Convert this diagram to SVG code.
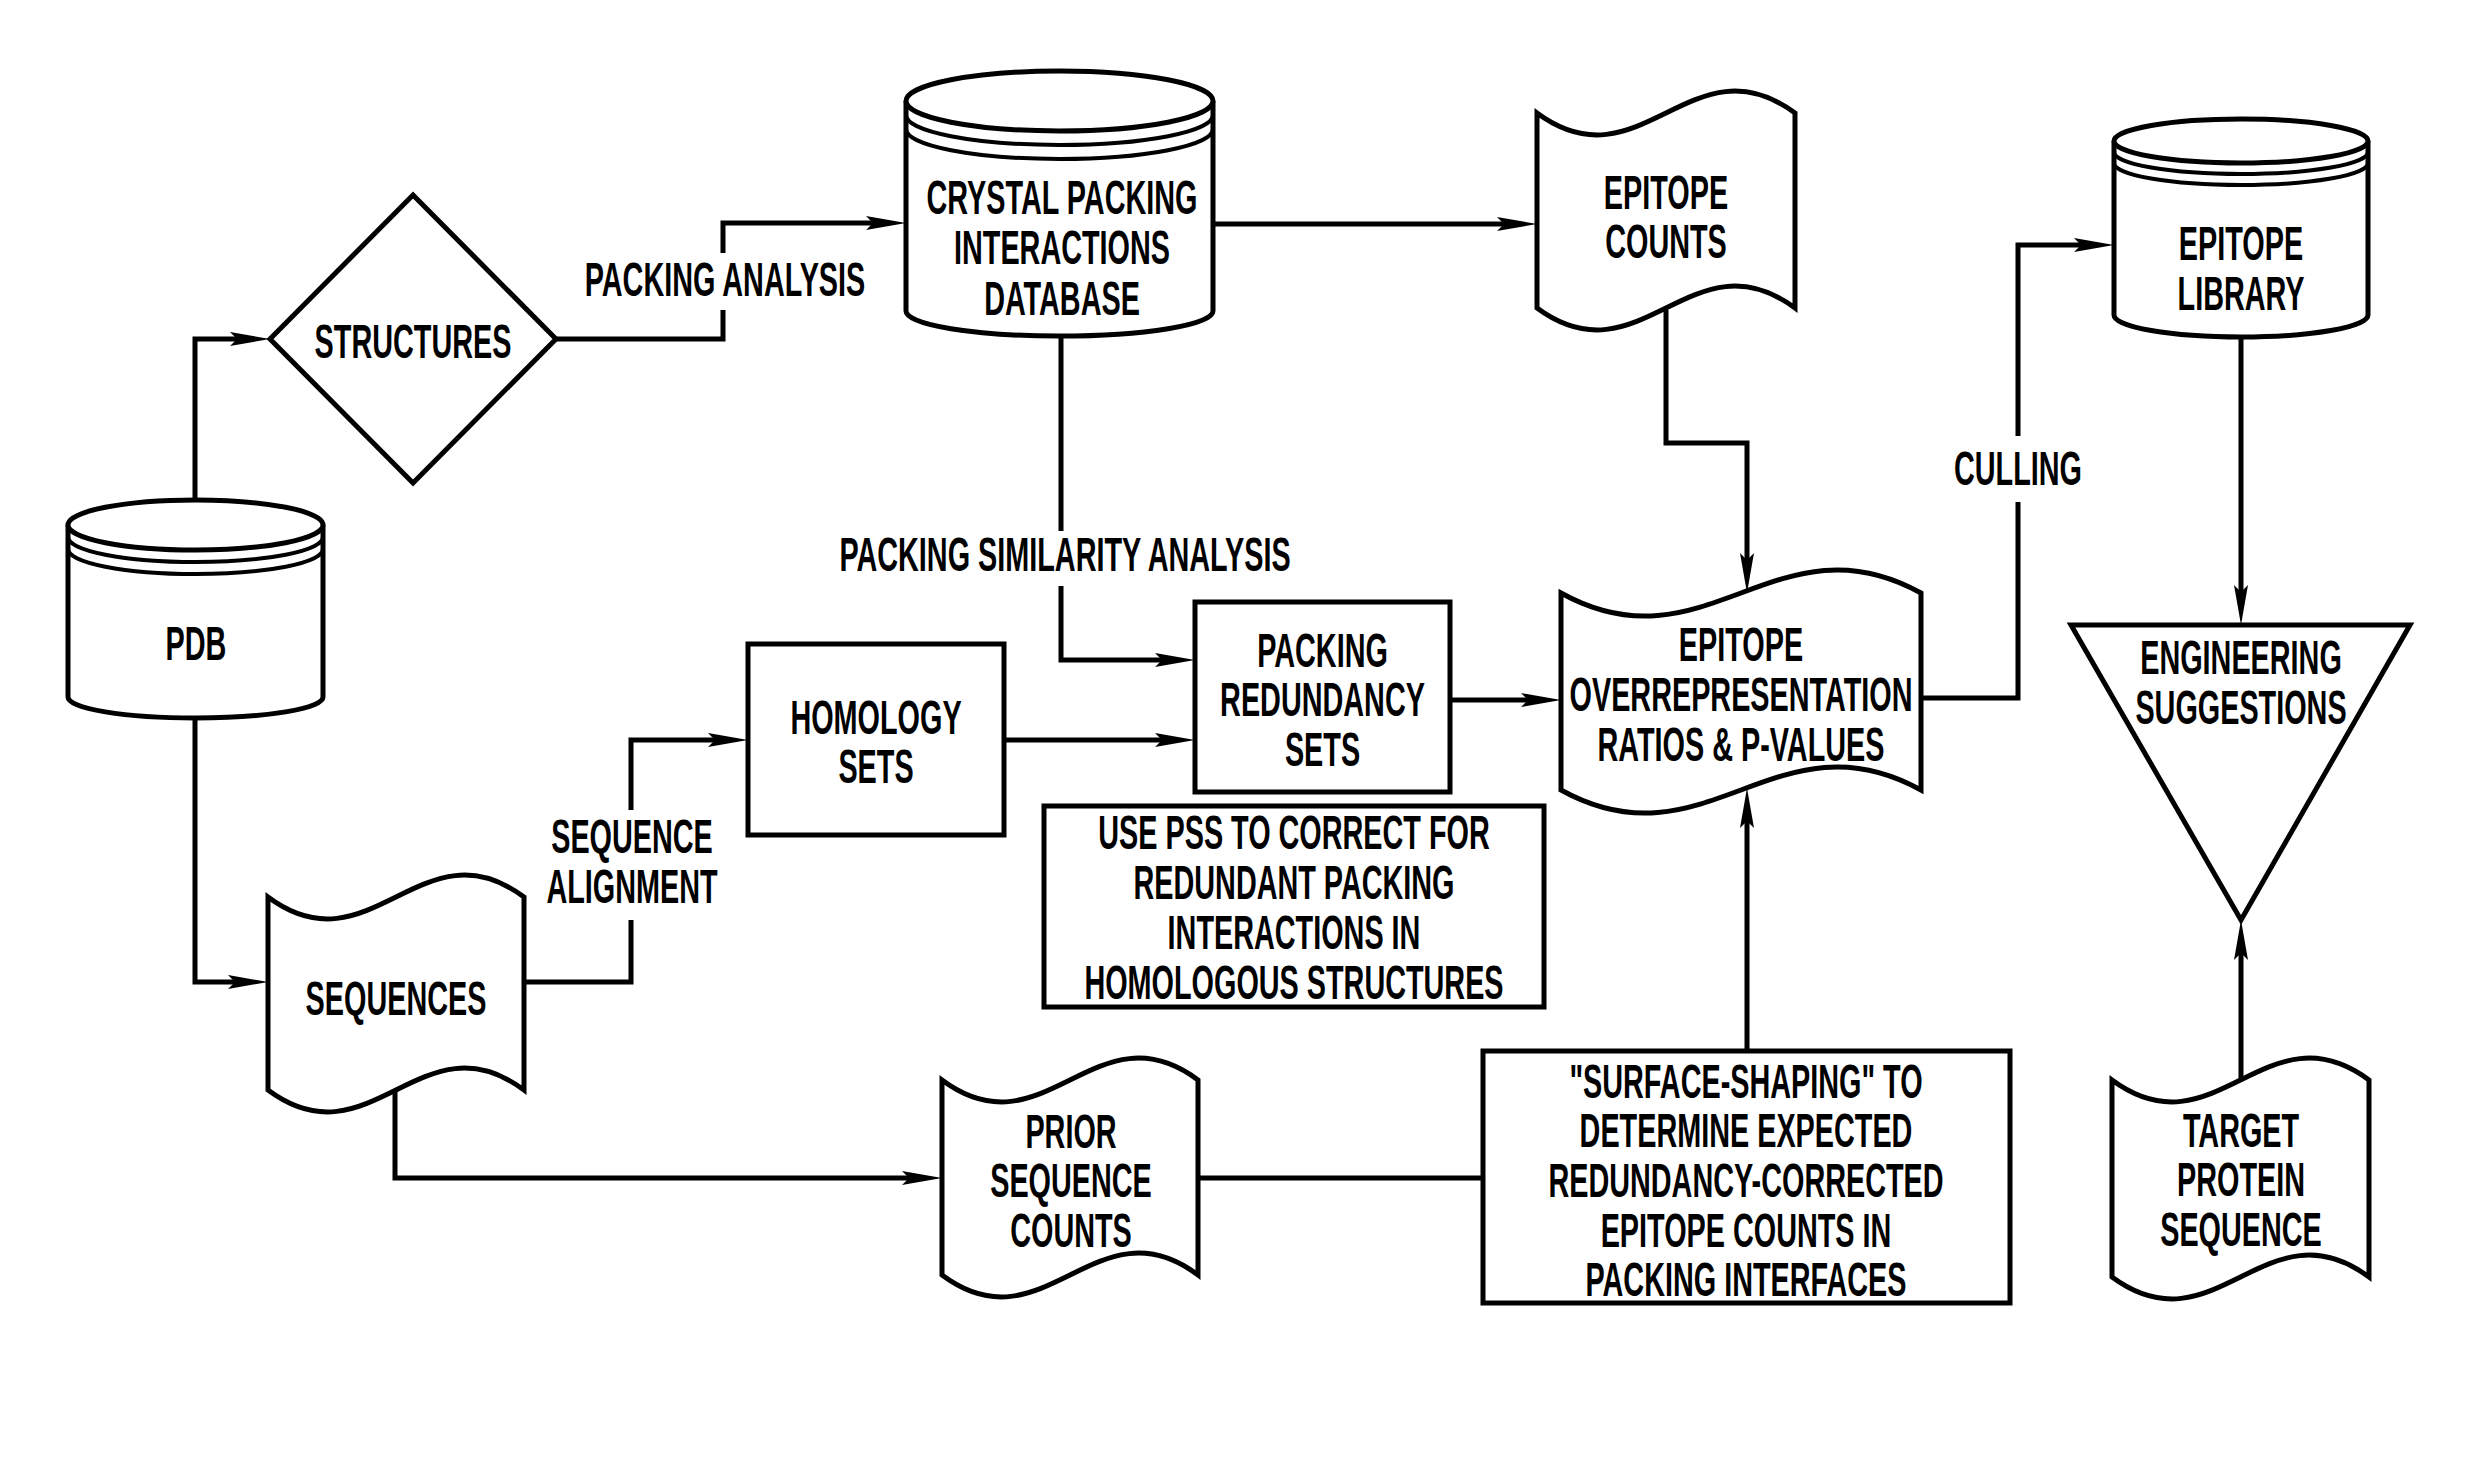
<svg xmlns="http://www.w3.org/2000/svg" width="2470" height="1472" viewBox="0 0 2470 1472">
<defs>
<style>
.s{fill:#fff;stroke:#000;stroke-width:5;stroke-linejoin:miter}
.a{fill:none;stroke:#000;stroke-width:4}
.c{fill:none;stroke:#000;stroke-width:5}
.ar{fill:none;stroke:#000;stroke-width:5;marker-end:url(#ah)}
.t{font-family:"Liberation Sans",Arial,sans-serif;font-weight:bold;font-size:48px;fill:#000;text-anchor:middle}
</style>
<marker id="ah" markerUnits="userSpaceOnUse" markerWidth="44" markerHeight="18" viewBox="-42 -9 44 18" refX="-20" refY="0" orient="auto" overflow="visible">
<path d="M0,0 L-40,-7 L-33,0 L-40,7 Z" fill="#000"/>
</marker>
</defs>
<rect width="2470" height="1472" fill="#fff"/>

<g id="connectors">
<path class="ar" d="M195,527 V339 H250"/>
<path class="c" d="M556,339 H723 V310"/>
<path class="ar" d="M723,253 V223 H886"/>
<path class="ar" d="M1213,224 H1517"/>
<path class="c" d="M1061,337 V531"/>
<path class="ar" d="M1061,586 V660 H1175"/>
<path class="ar" d="M1666,310 V443 H1747 V573"/>
<path class="ar" d="M1004,740 H1175"/>
<path class="ar" d="M1450,700 H1541"/>
<path class="c" d="M1921,698 H2018 V502"/>
<path class="ar" d="M2018,436 V245 H2094"/>
<path class="ar" d="M2241,337 V605"/>
<path class="ar" d="M2241,1080 V940"/>
<path class="ar" d="M195,720 V982 H248"/>
<path class="c" d="M524,982 H631 V920"/>
<path class="ar" d="M631,810 V740 H728"/>
<path class="ar" d="M395,1090 V1178 H922"/>
<path class="c" d="M1198,1178 H1483"/>
<path class="ar" d="M1747,1051 V808"/>
</g>

<g id="labels">
<text class="t" transform="translate(725,295.5) scale(0.6,1)">PACKING ANALYSIS</text>
<text class="t" transform="translate(1065,571) scale(0.6,1)">PACKING SIMILARITY ANALYSIS</text>
<text class="t" transform="translate(632,853) scale(0.6,1)"><tspan x="0" y="0">SEQUENCE</tspan><tspan x="0" y="50">ALIGNMENT</tspan></text>
<text class="t" transform="translate(2018,485) scale(0.6,1)">CULLING</text>
</g>

<g id="pdb">
<path class="s" d="M68,525 V697 A127.5,21 0 0 0 323,697 V525"/>
<ellipse class="s" cx="195.5" cy="525" rx="127.5" ry="25"/>
<path class="a" d="M68,537 A127.5,25 0 0 0 323,537 M68,549 A127.5,25 0 0 0 323,549"/>
<text class="t" transform="translate(196,660) scale(0.6,1)">PDB</text>
</g>

<g id="structures">
<polygon class="s" points="413,195 556,339 413,483 270,339"/>
<text class="t" transform="translate(413,358) scale(0.6,1)">STRUCTURES</text>
</g>

<g id="crystal-db">
<path class="s" d="M906,101 V311 A153.5,25 0 0 0 1213,311 V101"/>
<ellipse class="s" cx="1059.5" cy="101" rx="153.5" ry="30"/>
<path class="a" d="M906,115 A153.5,30 0 0 0 1213,115 M906,129 A153.5,30 0 0 0 1213,129"/>
<text class="t" transform="translate(1062,214) scale(0.6,1)"><tspan x="0" y="0">CRYSTAL PACKING</tspan><tspan x="0" y="50.5">INTERACTIONS</tspan><tspan x="0" y="101">DATABASE</tspan></text>
</g>

<g id="epitope-counts">
<path class="s" d="M1537,113 C1640,189 1692,37 1795,113 L1795,308 C1692,232 1640,384 1537,308 Z"/>
<text class="t" transform="translate(1666,208.5) scale(0.6,1)"><tspan x="0" y="0">EPITOPE</tspan><tspan x="0" y="50">COUNTS</tspan></text>
</g>

<g id="epitope-library">
<path class="s" d="M2114,141 V315 A127,22 0 0 0 2368,315 V141"/>
<ellipse class="s" cx="2241" cy="141" rx="127" ry="22"/>
<path class="a" d="M2114,152 A127,22 0 0 0 2368,152 M2114,163 A127,22 0 0 0 2368,163"/>
<text class="t" transform="translate(2241,260) scale(0.6,1)"><tspan x="0" y="0">EPITOPE</tspan><tspan x="0" y="50">LIBRARY</tspan></text>
</g>

<g id="homology-sets">
<rect class="s" x="748" y="644" width="256" height="191"/>
<text class="t" transform="translate(876,733.5) scale(0.6,1)"><tspan x="0" y="0">HOMOLOGY</tspan><tspan x="0" y="50">SETS</tspan></text>
</g>

<g id="packing-redundancy">
<rect class="s" x="1195" y="602" width="255" height="190"/>
<text class="t" transform="translate(1322.5,666.5) scale(0.6,1)"><tspan x="0" y="0">PACKING</tspan><tspan x="0" y="50">REDUNDANCY</tspan><tspan x="0" y="100">SETS</tspan></text>
</g>

<g id="overrepresentation">
<path class="s" d="M1561,593 C1705,673 1777,513 1921,593 L1921,790 C1777,710 1705,870 1561,790 Z"/>
<text class="t" transform="translate(1741,661) scale(0.6,1)"><tspan x="0" y="0">EPITOPE</tspan><tspan x="0" y="50">OVERREPRESENTATION</tspan><tspan x="0" y="100">RATIOS &amp; P-VALUES</tspan></text>
</g>

<g id="engineering-suggestions">
<polygon class="s" points="2071,625 2410,625 2241,920"/>
<text class="t" transform="translate(2241,674) scale(0.6,1)"><tspan x="0" y="0">ENGINEERING</tspan><tspan x="0" y="50">SUGGESTIONS</tspan></text>
</g>

<g id="sequences">
<path class="s" d="M268,897 C370,973 422,821 524,897 L524,1090 C422,1014 370,1166 268,1090 Z"/>
<text class="t" transform="translate(396,1015) scale(0.6,1)">SEQUENCES</text>
</g>

<g id="use-pss">
<rect class="s" x="1044" y="806" width="500" height="201"/>
<text class="t" transform="translate(1294,849) scale(0.6,1)"><tspan x="0" y="0">USE PSS TO CORRECT FOR</tspan><tspan x="0" y="50">REDUNDANT PACKING</tspan><tspan x="0" y="100">INTERACTIONS IN</tspan><tspan x="0" y="150">HOMOLOGOUS STRUCTURES</tspan></text>
</g>

<g id="prior-sequence-counts">
<path class="s" d="M942,1080 C1044,1156 1096,1004 1198,1080 L1198,1275 C1096,1199 1044,1351 942,1275 Z"/>
<text class="t" transform="translate(1071,1147.5) scale(0.6,1)"><tspan x="0" y="0">PRIOR</tspan><tspan x="0" y="50">SEQUENCE</tspan><tspan x="0" y="100">COUNTS</tspan></text>
</g>

<g id="surface-shaping">
<rect class="s" x="1483" y="1051" width="527" height="252"/>
<text class="t" transform="translate(1746,1097.5) scale(0.6,1)"><tspan x="0" y="0">&quot;SURFACE-SHAPING&quot; TO</tspan><tspan x="0" y="50">DETERMINE EXPECTED</tspan><tspan x="0" y="100">REDUNDANCY-CORRECTED</tspan><tspan x="0" y="150">EPITOPE COUNTS IN</tspan><tspan x="0" y="199">PACKING INTERFACES</tspan></text>
</g>

<g id="target-protein-sequence">
<path class="s" d="M2112,1080 C2215,1156 2266,1004 2369,1080 L2369,1277 C2266,1201 2215,1353 2112,1277 Z"/>
<text class="t" transform="translate(2241,1146.5) scale(0.6,1)"><tspan x="0" y="0">TARGET</tspan><tspan x="0" y="50">PROTEIN</tspan><tspan x="0" y="100">SEQUENCE</tspan></text>
</g>
</svg>
